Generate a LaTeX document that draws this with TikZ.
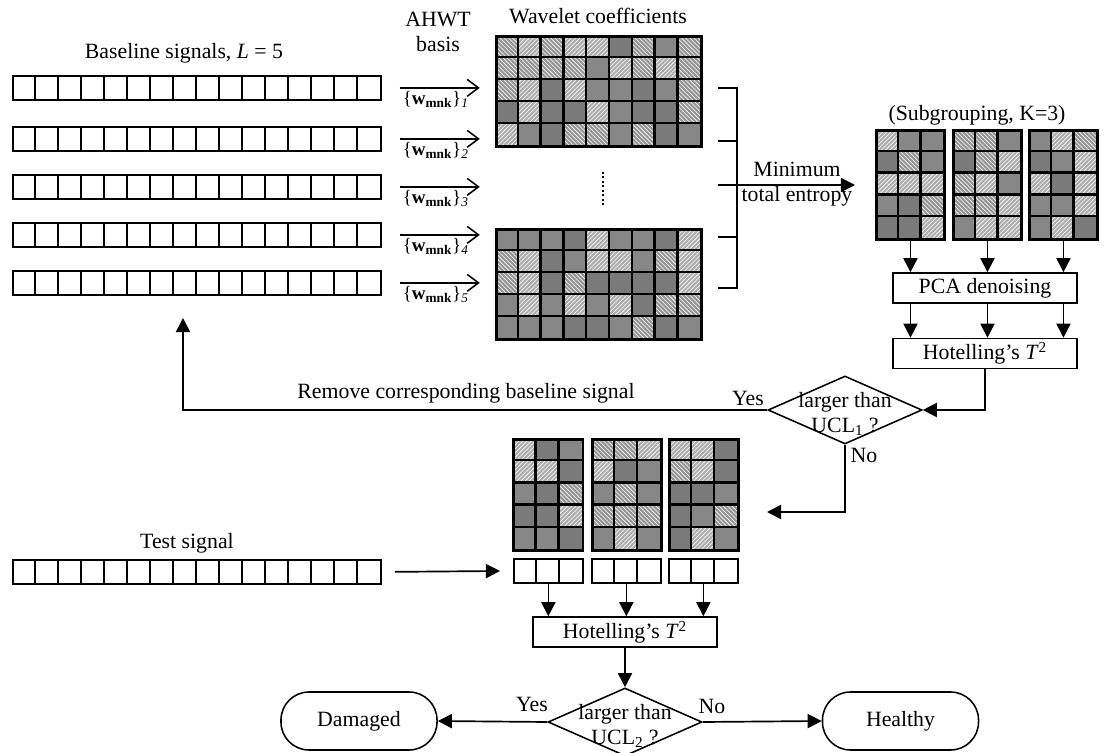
\documentclass[tikz,border=0pt]{standalone}
\usepackage{fontspec}
\setmainfont{Liberation Serif}
\usetikzlibrary{arrows.meta,shapes.geometric,patterns,positioning}

\newcommand{\px}{0.025cm}

% a row of empty signal cells: name, left x, top y, cells
\newcommand{\sigrow}[4]{%
  \pgfmathsetmacro\rowwd{#4*23*0.025}
  \node[sigbox,minimum width=\rowwd cm,anchor=north west] (#1) at (#2,#3) {};
  \pgfmathtruncatemacro\lastcell{#4-1}
  \foreach \i in {1,...,\lastcell}
    \draw[sigline] ({#2+\i*23},#3) -- ({#2+\i*23},{#3+24});
}

% a block of wavelet coefficients: name, x, y, cols, rows, cell w, cell h
\newcommand{\coefmat}[7]{%
  \pgfmathtruncatemacro\lastc{#4-1}
  \pgfmathtruncatemacro\lastr{#5-1}
  \foreach \i in {0,...,\lastc}
    \foreach \j in {0,...,\lastr} {
      \pgfmathtruncatemacro\tn{random(0,3)}
      \fill[cell\tn] ({#2+\i*#6},{#3+\j*#7}) rectangle ++(#6,#7);
    }
  \foreach \i in {1,...,\lastc}
    \draw[matline] ({#2+\i*#6},#3) -- ++(0,{#5*#7});
  \foreach \j in {1,...,\lastr}
    \draw[matline] (#2,{#3+\j*#7}) -- ++({#4*#6},0);
  \pgfmathsetmacro\matwd{#4*#6*0.025}
  \pgfmathsetmacro\matht{#5*#7*0.025}
  \node[matbox,minimum width=\matwd cm,minimum height=\matht cm,anchor=north west] (#1) at (#2,#3) {};
}

\tikzset{
  sigbox/.style={draw,line width=1.2pt,inner sep=0,minimum height=0.6cm},
  sigline/.style={line width=1.2pt},
  matbox/.style={draw,line width=1.8pt,inner sep=0},
  matline/.style={line width=1.8pt},
  cell0/.style={fill=black!52},
  cell1/.style={fill=black!47},
  cell2/.style={fill=black!32,postaction={pattern=north east lines,pattern color=white}},
  cell3/.style={fill=black!42,postaction={pattern=north west lines,pattern color=white}},
  stepbox/.style={draw,line width=1.1pt,inner sep=0,minimum width=4.6cm,minimum height=0.75cm},
  decision/.style={draw,diamond,line width=1.1pt,inner sep=0,minimum width=3.85cm,minimum height=1.7cm},
  terminal/.style={draw,line width=1.1pt,rounded corners=0.7cm,minimum width=3.9cm,minimum height=1.45cm},
  flow/.style={line width=1.2pt,-{Triangle[length=10pt,width=10pt]}},
  basis/.style={line width=1.1pt,-{Straight Barb[length=8pt,width=12pt]}},
  wlabel/.style={font=\fontsize{13.5}{15}\selectfont,anchor=north,inner sep=1pt},
}

\begin{document}
\begin{tikzpicture}[x=\px,y=-\px,font=\fontsize{15.5}{18}\selectfont]
\useasboundingbox (0,0) rectangle (1104,753);
\pgfmathsetseed{11}

  % baseline signals and AHWT basis
  \node (basetitle) at (184,53) {Baseline signals, \textit{L} = 5};
  \node[align=center] (ahwt) at (438,32) {AHWT\\basis};
  \foreach \r/\yy in {1/75,2/126,3/174,4/222,5/270} {
    \sigrow{base\r}{12}{\yy}{16}
    \draw[basis] ([xshift=0.45cm]base\r.east) -- node[wlabel,pos=0.45,below=1pt]
      {\{\textbf{w}\textsubscript{\textbf{mnk}}\}\textsubscript{\textit{\r}}} ([xshift=2.45cm]base\r.east);
  }

  % wavelet coefficients
  \node (wavtitle) at (598,16) {Wavelet coefficients};
  \coefmat{wc1}{495}{35}{9}{5}{22.8}{22}
  \coefmat{wc5}{495}{228}{9}{5}{22.8}{22}
  \draw[dotted,line width=1.2pt] (603,172) -- (603,205);

  % minimum total entropy
  \draw[line width=1.1pt] (718,88) -- (737,88) -- (737,288) -- (718,288);
  \draw[line width=1.1pt] (718,141) -- (737,141);
  \draw[line width=1.1pt] (718,237) -- (737,237);
  \coordinate (entropy) at (855,185);
  \node[align=center,inner sep=0] (mte) at (797,184) {Minimum\\total entropy};
  \draw[flow] (718,185) -- (entropy);

  % subgrouping
  \node (subtitle) at (977,115) {(Subgrouping, K=3)};
  \coefmat{sg1}{875}{129}{3}{5}{22.8}{21.8}
  \coefmat{sg2}{952}{129}{3}{5}{22.8}{21.8}
  \coefmat{sg3}{1028}{129}{3}{5}{22.8}{21.8}
  \node[stepbox] (pca) at (985,288) {PCA denoising};
  \node[stepbox] (hot1) at (985,353.5) {Hotelling’s \textit{T}\textsuperscript{2}};
  \foreach \m in {sg1,sg2,sg3} {
    \draw[flow] (\m.south) -- (\m.south |- pca.north);
    \draw[flow] (\m.south |- pca.south) -- (\m.south |- hot1.north);
  }

  % first check
  \node[decision,label={[align=center,yshift=-0.1cm]center:larger than\\UCL\textsubscript{1} ?}] (ucl1) at (845,410) {};
  \draw[flow] (hot1.south) |- (ucl1.east);
  \coordinate (back) at (183,318);
  \draw[flow] (ucl1.west) -| (back);
  \node (yes1) at (748,398) {Yes};
  \node (remove) at (466,393) {Remove corresponding baseline signal};
  \coordinate (noend) at (767,512);
  \draw[flow] (ucl1.south) |- (noend);
  \node (no1) at (864,455) {No};

  % test signal
  \coefmat{lm1}{512}{438}{3}{5}{23.3}{22.2}
  \coefmat{lm2}{591}{438}{3}{5}{23}{22.2}
  \coefmat{lm3}{668}{438}{3}{5}{23}{22.2}
  \sigrow{t1}{513}{558}{3}
  \sigrow{t2}{591}{558}{3}
  \sigrow{t3}{668}{558}{3}
  \node (testtitle) at (187,543) {Test signal};
  \sigrow{test}{12}{559}{16}
  \coordinate (tsend) at (500,571);
  \draw[flow] ([xshift=0.33cm]test.east) -- (tsend);
  \node[stepbox] (hot2) at (625,632) {Hotelling’s \textit{T}\textsuperscript{2}};
  \foreach \t in {t1,t2,t3}
    \draw[flow] (\t.south) -- (\t.south |- hot2.north);

  % second check
  \node[decision,label={[align=center,yshift=-0.1cm]center:larger than\\UCL\textsubscript{2} ?}] (ucl2) at (625,722) {};
  \draw[flow] (hot2.south) -- (ucl2.north);
  \node[terminal] (damaged) at (359,721) {Damaged};
  \node[terminal] (healthy) at (900.5,721) {Healthy};
  \draw[flow] (ucl2.west) -- (damaged.east);
  \draw[flow] (ucl2.east) -- (healthy.west);
  \node (yes2) at (532,704) {Yes};
  \node (no2) at (712,706) {No};

\end{tikzpicture}
\end{document}
